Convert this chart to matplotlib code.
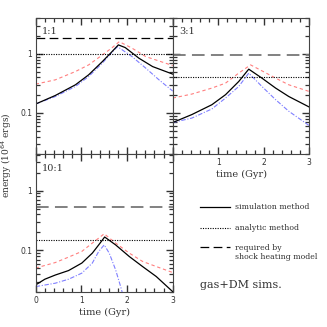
import numpy as np
import matplotlib
matplotlib.use("Agg")
import matplotlib.pyplot as plt
from matplotlib.lines import Line2D
from matplotlib.ticker import LogLocator, NullFormatter, MultipleLocator

# ---------------- data ----------------
panel_labels = ["1:1", "3:1", "10:1"]

# 1:1
t11_sim = [0.0, 0.43, 0.87, 1.16, 1.46, 1.65, 1.81, 1.96, 2.26, 2.56, 3.0]
e11_sim = [0.142, 0.198, 0.30, 0.443, 0.742, 1.05, 1.42, 1.28, 0.846, 0.61, 0.455]
t11_red = [0.0, 0.43, 0.87, 1.16, 1.46, 1.66, 1.83, 2.11, 2.41, 3.0]
e11_red = [0.308, 0.364, 0.503, 0.652, 0.96, 1.25, 1.61, 1.25, 0.90, 0.635]
t11_blue = [0.0, 0.43, 0.87, 1.16, 1.46, 1.64, 1.79, 2.11, 2.41, 2.7, 3.0]
e11_blue = [0.142, 0.19, 0.281, 0.414, 0.70, 1.0, 1.33, 0.90, 0.574, 0.364, 0.235]
e11_analytic = 1.0
e11_required = 1.84

# 3:1
t31_sim = [0.0, 0.42, 0.86, 1.16, 1.45, 1.67, 1.96, 2.26, 2.55, 3.0]
e31_sim = [0.069, 0.094, 0.138, 0.204, 0.341, 0.552, 0.389, 0.264, 0.19, 0.126]
t31_red = [0.0, 0.42, 0.86, 1.16, 1.45, 1.71, 1.96, 2.26, 2.55, 3.0]
e31_red = [0.179, 0.209, 0.264, 0.32, 0.473, 0.652, 0.517, 0.389, 0.30, 0.231]
t31_blue = [0.0, 0.42, 0.86, 1.16, 1.45, 1.67, 1.96, 2.26, 2.55, 3.0]
e31_blue = [0.069, 0.082, 0.117, 0.179, 0.281, 0.473, 0.281, 0.168, 0.107, 0.061]
e31_analytic = 0.41
e31_required = 0.94

# 10:1
t101_sim = [0.0, 0.2, 0.43, 0.72, 1.01, 1.24, 1.38, 1.51, 1.75, 2.05, 2.34, 2.64, 3.0]
e101_sim = [0.0266, 0.0331, 0.0389, 0.0462, 0.0616, 0.0903, 0.124, 0.168, 0.124,
            0.0792, 0.0539, 0.0367, 0.0205]
t101_red = [0.0, 0.43, 0.72, 1.01, 1.24, 1.5, 1.75, 2.05, 2.34, 2.64, 3.0]
e101_red = [0.0509, 0.0629, 0.0775, 0.0964, 0.133, 0.19, 0.133, 0.0903, 0.0656,
            0.0539, 0.0428]
t101_blue = [0.0, 0.43, 0.72, 1.01, 1.24, 1.38, 1.5, 1.61, 1.75, 1.86, 1.91]
e101_blue = [0.0249, 0.0284, 0.0331, 0.0418, 0.0616, 0.0964, 0.124, 0.0903, 0.0475,
             0.0249, 0.018]
e101_analytic = 0.147
e101_required = 0.54

xticks_right = [1, 2, 3]
xticks_bottom = [0, 1, 2, 3]
yticks = [0.1, 1]
ytick_labels = ["0.1", "1"]

# ---------------- style ----------------
txt_c = "#333333"
plt.rcParams.update({
    "xtick.direction": "in", "ytick.direction": "in",
    "xtick.top": True, "ytick.right": True,
    "xtick.major.size": 5, "ytick.major.size": 5,
    "xtick.minor.size": 2.6, "ytick.minor.size": 2.6,
    "xtick.major.width": 1.0, "ytick.major.width": 1.0,
    "xtick.minor.width": 0.9, "ytick.minor.width": 0.9,
    "xtick.color": "#333333", "ytick.color": "#333333",
    "xtick.labelcolor": txt_c, "ytick.labelcolor": txt_c,
    "xtick.labelsize": 5.5, "ytick.labelsize": 5.5,
    "xtick.major.pad": 2.5, "ytick.major.pad": 2.5,
    "axes.linewidth": 0.8, "axes.edgecolor": "#444444",
})

# ---------------- figure ----------------
fig = plt.figure(figsize=(3.27, 3.27), dpi=100)
W = H = 327.0

def ax_rect(x0, y0, x1, y1):
    return [x0 / W, 1 - y1 / H, (x1 - x0) / W, (y1 - y0) / H]

ax_tl = fig.add_axes(ax_rect(35.7, 18, 172.7, 154.3))
ax_tr = fig.add_axes(ax_rect(172.7, 18, 309.3, 154.3))
ax_bl = fig.add_axes(ax_rect(35.7, 154.3, 172.7, 292.3))

serif = "DejaVu Serif"
red_c = "#ff7f7f"
blue_c = "#7f7fff"

def draw(ax, ts, es, tr, er, tb, eb, ea, ereq, label, req_color, req_lw):
    ax.plot(tr, er, color=red_c, lw=0.8, linestyle=(0, (3, 2.5)))
    ax.plot(tb, eb, color=blue_c, lw=0.8, linestyle=(0, (4, 1.5, 1, 1.5)))
    ax.plot(ts, es, color="black", lw=0.9)
    ax.axhline(ea, color="black", lw=0.8, linestyle=(0, (1, 1.2)))
    ax.axhline(ereq, color=req_color, lw=req_lw, linestyle=(0, (7, 3.5)))
    ax.text(0.045, 0.9, label, transform=ax.transAxes, fontsize=7, family=serif,
            color=txt_c, va="center", ha="left")

draw(ax_tl, t11_sim, e11_sim, t11_red, e11_red, t11_blue, e11_blue,
     e11_analytic, e11_required, panel_labels[0], "black", 0.9)
draw(ax_tr, t31_sim, e31_sim, t31_red, e31_red, t31_blue, e31_blue,
     e31_analytic, e31_required, panel_labels[1], "#777777", 1.3)
draw(ax_bl, t101_sim, e101_sim, t101_red, e101_red, t101_blue, e101_blue,
     e101_analytic, e101_required, panel_labels[2], "#777777", 1.3)

for ax in (ax_tl, ax_tr, ax_bl):
    ax.set_yscale("log")
    ax.set_ylim(0.02, 4.05)
    ax.set_xlim(0, 3)
    ax.set_xticks([0, 1, 2, 3])
    ax.xaxis.set_minor_locator(MultipleLocator(0.2))
    ax.set_yticks(yticks)
    ax.yaxis.set_minor_locator(LogLocator(base=10, subs=np.arange(2, 10), numticks=10))
    ax.yaxis.set_minor_formatter(NullFormatter())

ax_tl.set_xticklabels([])
ax_tl.set_yticklabels(ytick_labels)
ax_tr.set_yticklabels([])
ax_tr.set_xticklabels([""] + [str(v) for v in xticks_right])
ax_bl.set_yticklabels(ytick_labels)
ax_bl.set_xticklabels([str(v) for v in xticks_bottom])

ax_tr.set_xlabel("time (Gyr)", fontsize=7, family=serif, color=txt_c, labelpad=2)
ax_bl.set_xlabel("time (Gyr)", fontsize=7, family=serif, color=txt_c, labelpad=2)
fig.text(7 / W, 1 - 155 / H, "energy (10$^{64}$ ergs)", rotation=90, fontsize=6.5,
         family=serif, color=txt_c, ha="center", va="center")

# legend
leg_x0, leg_x1, leg_tx = 200 / W, 230 / W, 235 / W
entries = [
    (207, "-", 0.9, "simulation method", 207),
    (228, (0, (1, 1.2)), 0.8, "analytic method", 228),
    (247, (0, (7, 3.5)), 0.9, "required by\nshock heating model", 252.5),
]
for ypx, ls, lw, txt, typx in entries:
    yf = 1 - ypx / H
    fig.add_artist(Line2D([leg_x0, leg_x1], [yf, yf], transform=fig.transFigure,
                          color="black", lw=lw, linestyle=ls))
    fig.text(leg_tx, 1 - typx / H, txt, fontsize=5.6, family=serif, color=txt_c,
             ha="left", va="center", linespacing=1.25)
fig.text(200 / W, 1 - 285 / H, "gas+DM sims.", fontsize=8, family=serif,
         color=txt_c, ha="left", va="center")

fig.savefig("out.png", dpi=100)
